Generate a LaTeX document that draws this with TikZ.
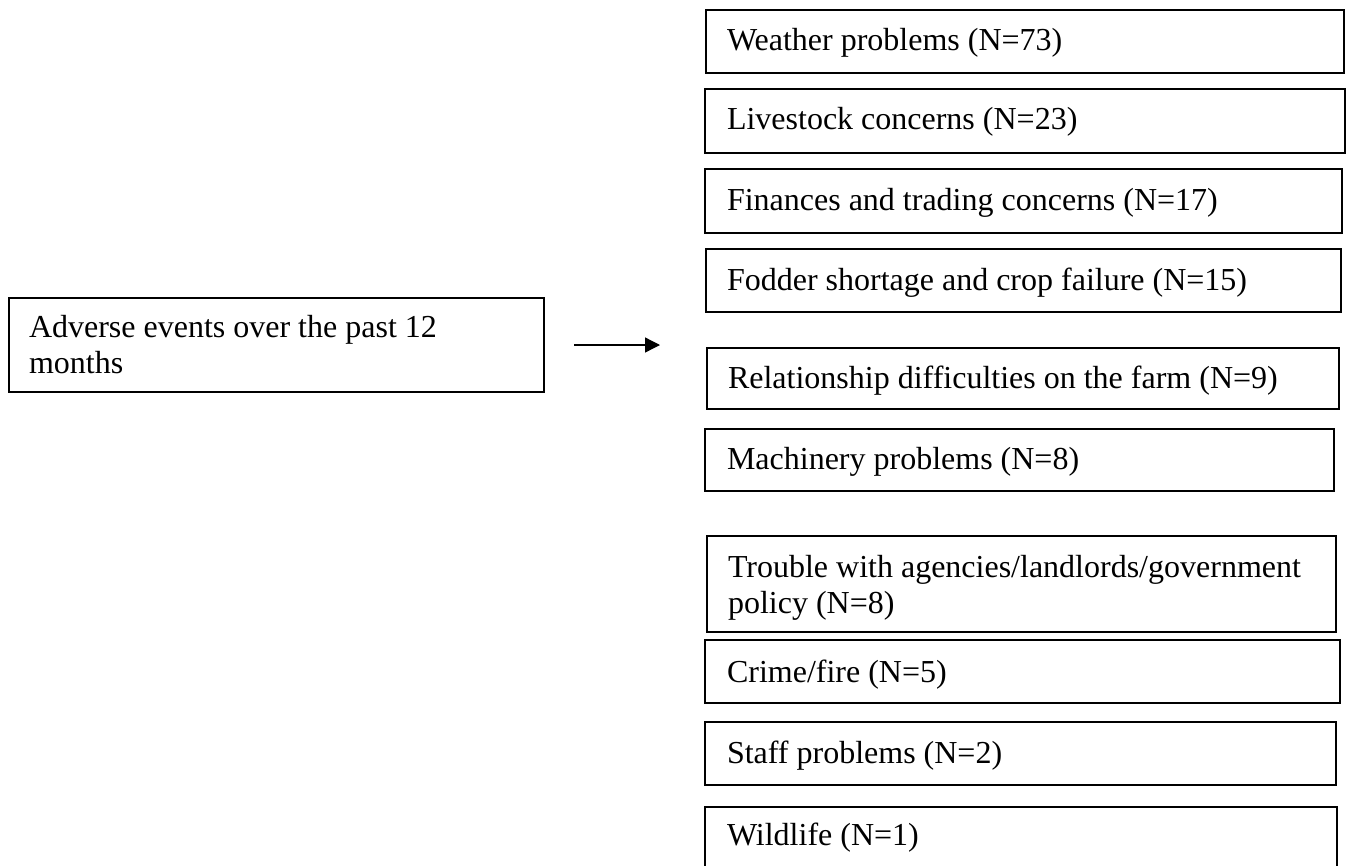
\documentclass[tikz,border=0pt]{standalone}
\usepackage{fontspec}
\setmainfont{Liberation Serif}
\usetikzlibrary{arrows.meta}
\begin{document}
\begin{tikzpicture}[x=1pt,y=-1pt,
  boxframe/.style={draw,line width=2pt,inner sep=0pt,outer sep=0pt,anchor=north west},
  boxtext/.style={anchor=base west,inner sep=0pt,outer sep=0pt,font=\fontsize{32}{36}\selectfont,align=left},
  link/.style={line width=1.3pt,-{Triangle[length=15pt,width=15pt]}}]
\useasboundingbox (0,0) rectangle (1348,865);
% source box
\node[boxframe,minimum width=535pt,minimum height=94pt] (src) at (9,298) {};
\node[boxtext] (srct) at (29,373) {Adverse events over the past 12\\months};
% target boxes
\node[boxframe,minimum width=638pt,minimum height=63pt] (b1) at (706,10) {};
\node[boxtext] (t1) at (727,50) {Weather problems (N=73)};
\node[boxframe,minimum width=640pt,minimum height=64pt] (b2) at (705,89) {};
\node[boxtext] (t2) at (727,129) {Livestock concerns (N=23)};
\node[boxframe,minimum width=637pt,minimum height=64pt] (b3) at (705,169) {};
\node[boxtext] (t3) at (727,210) {Finances and trading concerns (N=17)};
\node[boxframe,minimum width=635pt,minimum height=63pt] (b4) at (706,249) {};
\node[boxtext] (t4) at (727,290) {Fodder shortage and crop failure (N=15)};
\node[boxframe,minimum width=632pt,minimum height=61pt] (b5) at (707,348) {};
\node[boxtext] (t5) at (728,388) {Relationship difficulties on the farm (N=9)};
\node[boxframe,minimum width=629pt,minimum height=62pt] (b6) at (705,429) {};
\node[boxtext] (t6) at (727,469) {Machinery problems (N=8)};
\node[boxframe,minimum width=629pt,minimum height=96pt] (b7) at (707,536) {};
\node[boxtext] (t7) at (728,613) {Trouble with agencies/landlords/government\\policy (N=8)};
\node[boxframe,minimum width=635pt,minimum height=63pt] (b8) at (705,640) {};
\node[boxtext] (t8) at (727,682) {Crime/fire (N=5)};
\node[boxframe,minimum width=631pt,minimum height=63pt] (b9) at (705,722) {};
\node[boxtext] (t9) at (727,763) {Staff problems (N=2)};
\node[boxframe,minimum width=632pt,minimum height=70pt] (b10) at (705,807) {};
\node[boxtext] (t10) at (727,845) {Wildlife (N=1)};
% connector
\draw[link,shorten <=30pt,shorten >=46pt] (src.east) -- (src.east -| b1.west);
\end{tikzpicture}
\end{document}
